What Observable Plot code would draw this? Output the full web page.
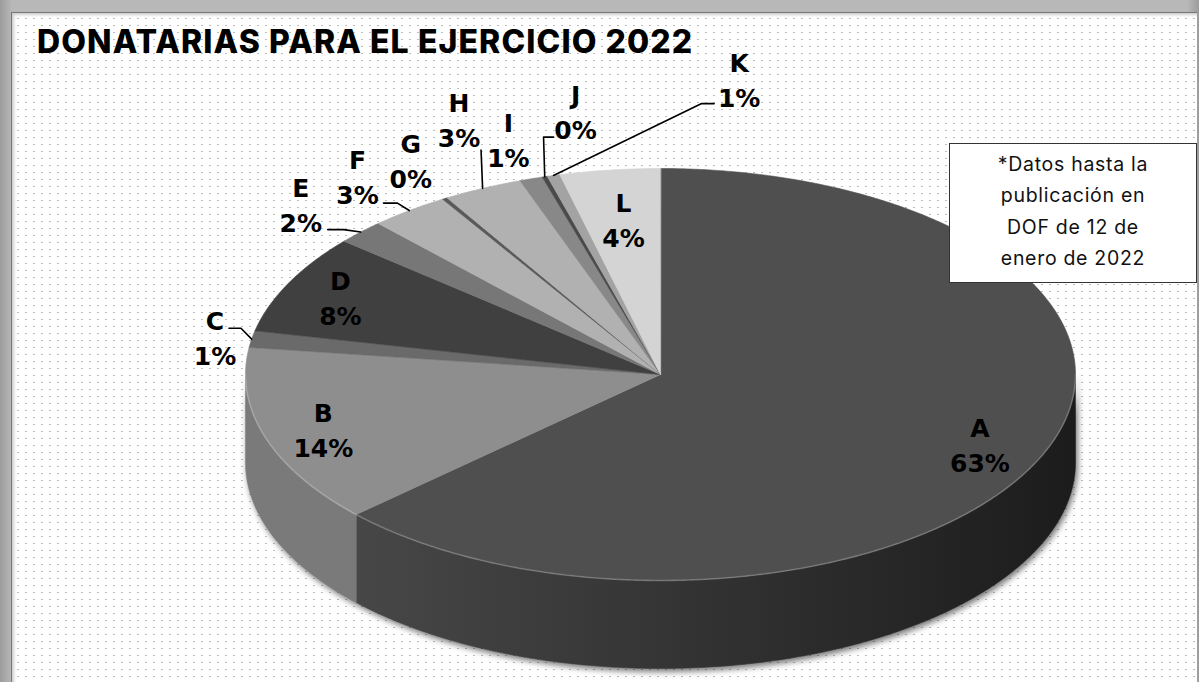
<!DOCTYPE html>
<html><head><meta charset="utf-8">
<script src="https://cdn.jsdelivr.net/npm/d3@7"></script>
<script src="https://cdn.jsdelivr.net/npm/@observablehq/plot@0.6"></script>
<style>
html,body{margin:0;padding:0;background:#fff;}
#frame{position:relative;width:1199px;height:682px;overflow:hidden;background:linear-gradient(90deg,#9c9c9c,#b8b8b8 1%,#b8b8b8 99%,#9c9c9c);}
#panel{position:absolute;left:11px;top:12px;width:1185px;height:670px;background-color:#fff;
 background-image:radial-gradient(circle, #bcbcbc 0.7px, transparent 1.1px);background-size:8px 7px;background-position:2px 2px;
 border-left:1px solid #777;border-top:1px solid #777;box-shadow:inset 2px 2px 3px rgba(0,0,0,0.2);}
#chart{position:absolute;left:0;top:0;}
#title{position:absolute;left:37px;top:24px;font-family:Inter,"Open Sans",sans-serif;font-weight:800;font-size:32px;letter-spacing:1.1px;color:#000;white-space:nowrap;line-height:36px;}
#note{position:absolute;left:949px;top:143px;width:248px;height:140px;box-sizing:border-box;border:1.5px solid #333;background:#fff;text-align:center;font-family:Inter,"Open Sans",sans-serif;font-size:19.5px;letter-spacing:0.7px;line-height:31.3px;padding-top:5px;color:#111;}
</style></head>
<body>
<div id="frame"><div id="panel"></div><div id="chart"></div><div id="title"></div><div id="note"></div></div>
<script>
// ---- data ----
const categories = ["A","B","C","D","E","F","G","H","I","J","K","L"];
const shares = [63.1, 14.0, 1.3, 7.8, 1.9, 3.1, 0.2, 3.1, 0.9, 0.2, 0.5, 3.9];
const titleText = "DONATARIAS PARA EL EJERCICIO 2022";
const noteLines = ["*Datos hasta la", "publicación en", "DOF de 12 de", "enero de 2022"];

// ---- styles / layout ----
const topColors = {A:"#4f4f4f",B:"#8e8e8e",C:"#6a6a6a",D:"#404040",E:"#777777",F:"#b1b1b1",G:"#5a5a5a",H:"#b1b1b1",I:"#888888",J:"#4a4a4a",K:"#a3a3a3",L:"#d4d4d4"};
const sideColors = {A:"url(#sideGradA)",B:"#7a7a7a"};
const pxX = 415, pxY = 206;           // unit size in pixels
const depth = 88 / pxY;               // pie thickness in y units
const labelLayout = {A:{r:0.84,dx:0,dy:0},B:{r:0.86,dx:3,dy:0},C:{r:1.08,dx:-4,dy:0},D:{r:0.855,dx:-2,dy:0},
  E:{r:1.2,dx:0,dy:0},F:{r:1.21,dx:1,dy:-1},G:{r:1.19,dx:7,dy:-6},H:{r:1.2,dx:12,dy:-33},
  I:{r:1.19,dx:2,dy:-3},J:{r:1.2,dx:54,dy:-27},K:{r:1.2,dx:207,dy:-57},L:{r:0.75,dx:1,dy:-3}};
const leaderLayout = {C:[[14,-8],[26,-8]],E:[[27,26],[43,26]],F:[[26,28],[40,28]],H:[[22,32],[22,32]],J:[[-22,27],[-32,27]],K:[[-25,25],[-38,25]]};

// ---- geometry ----
const total = d3.sum(shares);
let acc = 0;
const slices = categories.map((k,i) => {
  const a0 = acc/total*2*Math.PI; acc += shares[i]; const a1 = acc/total*2*Math.PI;
  return {key:k, value:shares[i], pct:Math.round(shares[i]/total*100 + 1e-9), a0, a1, mid:(a0+a1)/2};
});
function arcAngles(a0,a1){ const n=Math.max(2,Math.ceil((a1-a0)/0.008)+1); return d3.range(n).map(j=>a0+(a1-a0)*j/(n-1)); }
const rim = (key,a,off=0) => ({key, x:Math.sin(a), y:-Math.cos(a)+off});

const topPts = slices.flatMap(s => [{key:s.key,x:0,y:0}, ...arcAngles(s.a0,s.a1).map(a=>rim(s.key,a))]);
const sides = slices.map(s => ({...s, b0:Math.max(s.a0,Math.PI/2), b1:Math.min(s.a1,3*Math.PI/2)})).filter(s => s.b1 > s.b0);
const sidePts = sides.flatMap(s => {
  const as = arcAngles(s.b0,s.b1);
  return [...as.map(a=>rim(s.key,a)), ...as.slice().reverse().map(a=>rim(s.key,a,depth))];
});
const rimPts = arcAngles(Math.PI/2, 3*Math.PI/2).map(a=>rim("rim",a));

const labels = slices.map(s => {
  const L = labelLayout[s.key];
  return {key:s.key, pct:s.pct, x:Math.sin(s.mid)*L.r + L.dx/pxX, y:-Math.cos(s.mid)*L.r + L.dy/pxY, mid:s.mid};
});
const leaderPts = labels.filter(l => leaderLayout[l.key]).flatMap(l => {
  const pts = leaderLayout[l.key].map(([dx,dy]) => ({key:l.key, x:l.x+dx/pxX, y:l.y+dy/pxY}));
  return [...pts, rim(l.key, l.mid)];
});

const plot = Plot.plot({
  width:1199, height:682, margin:0,
  style:{background:"transparent", overflow:"visible"},
  x:{domain:[-1,1], range:[245,1075], axis:null},
  y:{domain:[-1,1], range:[168,580], axis:null},
  color:{type:"identity"},
  marks:[
    Plot.line(sidePts, {x:"x", y:"y", z:"key", fill:d=>sideColors[d.key], stroke:d=>sideColors[d.key], strokeWidth:0.5, curve:"linear-closed"}),
    Plot.line(topPts, {x:"x", y:"y", z:"key", fill:d=>topColors[d.key], stroke:d=>topColors[d.key], strokeWidth:0.6, curve:"linear-closed"}),
    Plot.line(rimPts, {x:"x", y:"y", stroke:"#ffffff", strokeOpacity:0.22, strokeWidth:1.6}),
    Plot.line(leaderPts, {x:"x", y:"y", z:"key", stroke:"#000", strokeWidth:1.6}),
    Plot.text(labels, {x:"x", y:"y", text:d=>`${d.key}\n${d.pct}%`, fontSize:25, fontWeight:"bold", fontFamily:"DejaVu Sans", lineHeight:1.4, fill:"#000"})
  ]
});
const defs = d3.select(plot).insert("defs", ":first-child");
const grad = defs.append("linearGradient").attr("id","sideGradA").attr("x1","0").attr("x2","1").attr("y1","0").attr("y2","0");
grad.append("stop").attr("offset","0").attr("stop-color","#474747");
grad.append("stop").attr("offset","1").attr("stop-color","#1c1c1c");
const gs = plot.querySelectorAll(":scope > g");
if (gs[0]) gs[0].style.filter = "drop-shadow(2px 3px 3px rgba(0,0,0,0.55))";
document.getElementById("chart").appendChild(plot);
document.getElementById("title").textContent = titleText;
document.getElementById("note").innerHTML = noteLines.map(t => `<div>${t}</div>`).join("");
</script>
</body></html>
